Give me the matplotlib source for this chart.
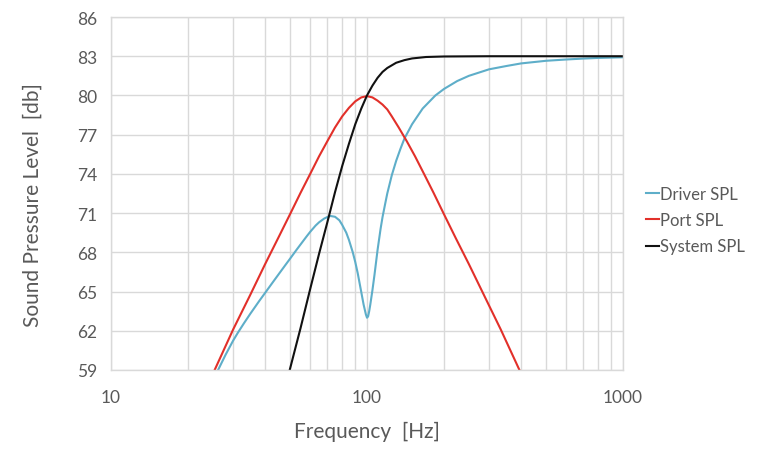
import matplotlib
matplotlib.use('Agg')
from matplotlib import pyplot as plt
from matplotlib.ticker import LogLocator, FixedLocator, NullFormatter

plt.rcParams['font.family'] = ['Lato', 'DejaVu Sans']

# driver (cone) output
driver_f = [26.2, 28, 30, 31.3, 33, 35, 38, 40, 43, 45, 48, 50, 53, 55, 58, 60, 63, 65, 68, 70,
            72, 75, 78, 80, 83, 85, 88, 90, 92, 95, 97, 99, 100, 101, 102, 103, 105, 107, 110,
            113, 115, 118, 120, 125, 130, 135, 140, 150, 165, 185, 200, 225, 250, 300, 350,
            400, 500, 600, 700, 800, 1000]
driver_db = [59.0, 60.15, 61.25, 61.85, 62.55, 63.3, 64.3, 64.9, 65.75, 66.28, 67.03, 67.5,
             68.18, 68.6, 69.2, 69.57, 70.05, 70.3, 70.58, 70.7, 70.78, 70.72, 70.45, 70.1,
             69.5, 68.95, 68.0, 67.25, 66.4, 64.95, 64.0, 63.25, 63.0, 63.1, 63.5, 64.0, 65.1,
             66.3, 68.2, 69.8, 70.7, 71.8, 72.5, 73.9, 75.0, 75.9, 76.7, 77.8, 79.0, 80.0, 80.5,
             81.1, 81.5, 82.0, 82.25, 82.45, 82.65, 82.75, 82.82, 82.87, 82.92]

# port output
port_f = [25.4, 30, 35, 40, 45, 50, 55, 60, 65, 70, 75, 80, 85, 90, 95, 100, 105, 110, 115,
          120, 125, 133, 143, 154, 167, 182, 200, 222, 250, 286, 333, 394]
port_db = [59.0, 62.1, 64.75, 67.1, 69.1, 70.9, 72.55, 74.0, 75.35, 76.5, 77.55, 78.4, 79.05,
           79.55, 79.85, 79.95, 79.85, 79.6, 79.3, 78.93, 78.4, 77.55, 76.5, 75.35, 74.0,
           72.55, 70.9, 69.1, 67.1, 64.75, 62.1, 59.0]

# whole system
system_f = [49.9, 55, 60, 65, 70, 75, 80, 85, 90, 95, 100, 105, 110, 115, 120, 130, 140, 150,
            170, 200, 300, 1000]
system_db = [59.0, 62.2, 65.2, 67.9, 70.3, 72.6, 74.6, 76.3, 77.8, 79.0, 80.0, 80.75, 81.35,
             81.8, 82.1, 82.5, 82.7, 82.83, 82.94, 82.98, 83.0, 83.0]

y_ticks = [59, 62, 65, 68, 71, 74, 77, 80, 83, 86]
x_ticks = [10, 100, 1000]
x_tick_labels = ['10', '100', '1000']

grey = '#595959'
grid_grey = '#d9d9d9'

fig = plt.figure(figsize=(7.65, 4.6), dpi=100)
ax = fig.add_axes([111/765, 1 - 371/460, 512/765, 353/460])

ax.plot(driver_f, driver_db, color='#5eaec9', lw=1.5, label='Driver SPL')
ax.plot(port_f, port_db, color='#e2302a', lw=1.5, label='Port SPL')
ax.plot(system_f, system_db, color='#111111', lw=1.5, label='System SPL')

ax.set_xscale('log')
ax.set_xlim(10, 1000)
ax.set_ylim(59, 86)
ax.set_yticks(y_ticks)
ax.xaxis.set_major_locator(FixedLocator(x_ticks))
ax.set_xticklabels(x_tick_labels)
ax.xaxis.set_minor_locator(LogLocator(base=10, subs=range(2, 10)))
ax.xaxis.set_minor_formatter(NullFormatter())
ax.grid(True, which='both', color=grid_grey, lw=1.0)
ax.set_axisbelow(True)
for s in ax.spines.values():
    s.set_color(grid_grey)
    s.set_linewidth(1.0)
ax.tick_params(which='both', length=0, labelsize=12.5, labelcolor=grey)
ax.tick_params(axis='x', pad=14)
ax.tick_params(axis='y', pad=10)

ax.set_xlabel('Frequency  [Hz]', fontsize=15, color=grey)
ax.set_ylabel('Sound Pressure Level  [db]', fontsize=15, color=grey)
ax.xaxis.set_label_coords(0.5, -0.145)
ax.yaxis.set_label_coords(-0.133, 0.47)

fig.legend(loc='center left', bbox_to_anchor=(631/765, 1 - 221/460), frameon=False,
           fontsize=12, handlelength=0.75, handletextpad=0.08, labelspacing=0.62,
           labelcolor=grey)

plt.savefig('out.png', dpi=100)
